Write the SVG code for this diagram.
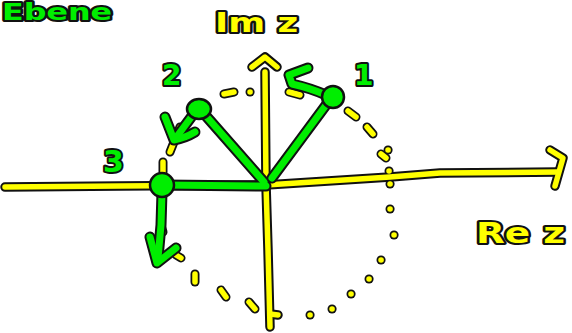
<svg xmlns="http://www.w3.org/2000/svg" xmlns:xlink="http://www.w3.org/1999/xlink" width="572" height="333" viewBox="0 0 572 333">
<style>
  .o{fill:none;stroke:#111;stroke-linecap:round;stroke-linejoin:round}
  .ya{stroke-width:9.5}
  .yf{fill:none;stroke:#ffff00;stroke-width:5.5;stroke-linecap:round;stroke-linejoin:round}
  .ga{stroke-width:11}
  .gf{fill:none;stroke:#00ee00;stroke-width:7;stroke-linecap:round;stroke-linejoin:round}
  .dot{fill:#00ee00;stroke:#111;stroke-width:2.5}
  .t{font-family:"DejaVu Sans",sans-serif;font-weight:bold;stroke:#111;stroke-width:4;paint-order:stroke;stroke-linejoin:round}
  .ty{fill:#ffff00}
  .tg{fill:#00ee00}
</style>
<defs>
  <g id="axes">
    <path d="M5,187 L120,186 L266,185 L390,177 L440,173 L558,172"/>
    <path d="M550,150 L563,158 L555,186"/>
    <path d="M270,327 L268,250 L266,185 L265,72"/>
    <path d="M252,67 L265,57 L277,67"/>
    <path d="M270,314 L278,315"/>
  </g>
  <g id="dashes">
    <path d="M224,94 L234,92"/>
    <path d="M250,92 l0.1,0"/>
    <path d="M289,92 L300,95"/>
    <path d="M348,111 L356,117"/>
    <path d="M367,127 L373,134"/>
    <path d="M381,154 L386,158"/>
    <path d="M388,150 l0.1,0"/>
    <path d="M389,171 l0.1,0"/>
    <path d="M390,184 l0.1,0"/>
    <path d="M390,209 l0.1,0"/>
    <path d="M394,235 l0.1,0"/>
    <path d="M381,260 l0.1,0"/>
    <path d="M369,279 l0.1,0"/>
    <path d="M351,294 l0.1,0"/>
    <path d="M332,309 l0.1,0"/>
    <path d="M310,315 l0.1,0"/>
    <path d="M249,302 L255,309"/>
    <path d="M221,290 L226,297"/>
    <path d="M195,274 L195,282"/>
    <path d="M176,255 L181,258"/>
    <path d="M161,225 L163,232"/>
    <path d="M163,162 L163,172"/>
    <path d="M170,152 L180,127"/>
  </g>
  <g id="greens">
    <path d="M163,185 L266,186"/>
    <path d="M272,178 L332,97"/>
    <path d="M264,182 L199,108"/>
    <path d="M308,68 L289,75 L292,84 Q310,88 326,95"/>
    <path d="M195,112 L178,135"/>
    <path d="M165,117 L174,140 Q185,138 195,132"/>
    <path d="M162,192 L161,225 L158,258"/>
    <path d="M150,237 L157,263 L176,248"/>
  </g>
</defs>
<g id="axes-layer">
  <use xlink:href="#axes" class="o ya"/>
  <use xlink:href="#dashes" class="o ya" style="stroke-width:9"/>
  <use xlink:href="#axes" class="yf"/>
  <use xlink:href="#dashes" class="yf"/>
</g>
<g id="connectors">
  <use xlink:href="#greens" class="o ga"/>
  <use xlink:href="#greens" class="gf"/>
</g>
<g id="node-1"><circle class="dot" cx="333" cy="97" r="11"/><text class="t tg" x="354" y="85" font-size="28">1</text></g>
<g id="node-2"><ellipse class="dot" cx="199" cy="109" rx="12" ry="10"/><text class="t tg" x="162" y="85" font-size="28">2</text></g>
<g id="node-3"><circle class="dot" cx="162" cy="185" r="12"/><text class="t tg" x="103" y="172" font-size="30">3</text></g>
<g id="labels">
  <text class="t tg" x="2" y="20" font-size="23" textLength="110" lengthAdjust="spacingAndGlyphs">Ebene</text>
  <text class="t ty" x="215" y="32" font-size="26" textLength="83" lengthAdjust="spacingAndGlyphs">Im z</text>
  <text class="t ty" x="476" y="243" font-size="28" textLength="89" lengthAdjust="spacingAndGlyphs">Re z</text>
</g>
</svg>
